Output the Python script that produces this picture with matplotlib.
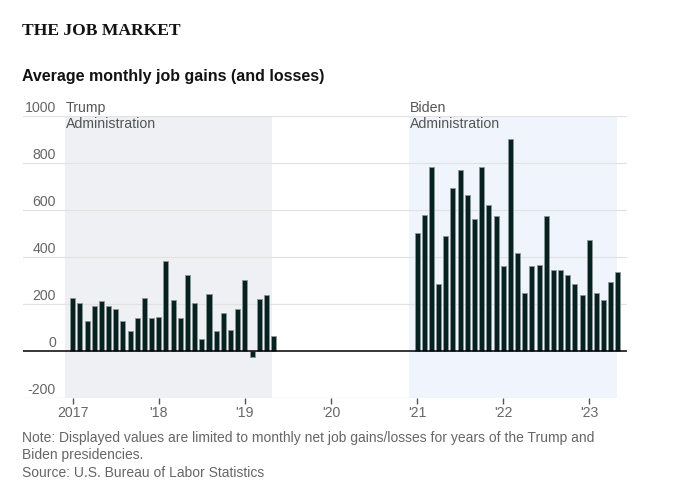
"""
grafica de ganancias mensuales de empleo (Trump / Biden)
"""
import pandas as pd
import matplotlib
matplotlib.use("Agg")
import matplotlib.pyplot as plt
from matplotlib import transforms

# meses mostrados en cada administracion
trump_months = pd.period_range("2017-01", "2019-05", freq="M")
biden_months = pd.period_range("2021-01", "2023-05", freq="M")

# ganancias promedio mensuales (miles de empleos)
trump_gains = [227, 203, 126, 193, 214, 193, 180, 129, 86, 142, 227, 142,
               146, 384, 218, 142, 325, 206, 52, 244, 86, 160, 91, 180,
               303, -26, 223, 240, 65]
biden_gains = [504, 579, 783, 284, 490, 694, 769, 665, 561, 783, 621, 575,
               360, 903, 418, 248, 360, 364, 575, 346, 346, 322, 286, 237,
               472, 245, 216, 292, 335]

year_ticks = [2017, 2018, 2019, 2020, 2021, 2022, 2023]
year_labels = ["2017", "'18", "'19", "'20", "'21", "'22", "'23"]
y_ticks = [-200, 0, 200, 400, 600, 800, 1000]
y_labels = ["-200", "0", "200", "400", "600", "800", "1000"]

# periodos sombreados (anio decimal)
trump_span = (2016.91, 2019.32)
biden_span = (2020.906, 2023.325)

bar_color = "#06211f"
edge_color = "#8a9796"
grid_color = "#e2e2e2"
label_color = "#666666"

plt.rcParams["font.family"] = ["Liberation Sans", "DejaVu Sans"]


def to_x(months):
    # posicion de cada mes como anio decimal
    return [p.year + (p.month - 1) / 12 for p in months]


fig = plt.figure(figsize=(6.74, 4.93), dpi=100)
ax = fig.add_axes([23 / 674, 1 - 398 / 493, 604 / 674, 282 / 493])

ax.axvspan(*trump_span, color="#eff0f3", zorder=0, lw=0)
ax.axvspan(*biden_span, color="#f0f5fd", zorder=0, lw=0)

for v in y_ticks:
    if v == 0:
        ax.axhline(v, color="black", lw=1.1, zorder=3)
    else:
        ax.axhline(v, color=grid_color, lw=0.9, zorder=1)

w = 0.7 / 12
ax.bar(to_x(trump_months), trump_gains, width=w, color=bar_color,
       edgecolor=edge_color, linewidth=0.6, zorder=2)
ax.bar(to_x(biden_months), biden_gains, width=w, color=bar_color,
       edgecolor=edge_color, linewidth=0.6, zorder=2)

ax.set_xlim(2016.423, 2023.438)
ax.set_ylim(-200, 1000)
for s in ax.spines.values():
    s.set_visible(False)

ax.set_yticks([])
ax.set_xticks(year_ticks)
ax.set_xticklabels(year_labels)
ax.tick_params(axis="x", length=4, width=1, color="#555555",
               labelcolor=label_color, labelsize=10.2, pad=2)

# etiquetas del eje y encima de cada linea
trans = transforms.blended_transform_factory(ax.transAxes, ax.transData)
for v, lab in zip(y_ticks, y_labels):
    ax.text(0.0546, v + 19, lab, transform=trans, ha="right", va="baseline",
            fontsize=10.2, color=label_color)

ax.text(trump_span[0] + 0.01, 1062, "Trump\nAdministration", ha="left",
        va="top", fontsize=10.2, color="#555555", linespacing=1.1)
ax.text(biden_span[0] + 0.01, 1062, "Biden\nAdministration", ha="left",
        va="top", fontsize=10.2, color="#555555", linespacing=1.1)

fig.text(22 / 674, 1 - 35 / 493, "THE JOB MARKET", family="Liberation Serif",
         fontweight="bold", fontsize=12.6, color="#121212", va="baseline")
fig.text(22 / 674, 1 - 81 / 493, "Average monthly job gains (and losses)",
         fontweight="bold", fontsize=11.5, color="#121212", va="baseline")

notes = ["Note: Displayed values are limited to monthly net job gains/losses for years of the Trump and",
         "Biden presidencies.",
         "Source: U.S. Bureau of Labor Statistics"]
for i, line in enumerate(notes):
    fig.text(22 / 674, 1 - (441.7 + 17.5 * i) / 493, line, fontsize=10,
             color=label_color, va="baseline")

fig.savefig("out.png", dpi=100)
